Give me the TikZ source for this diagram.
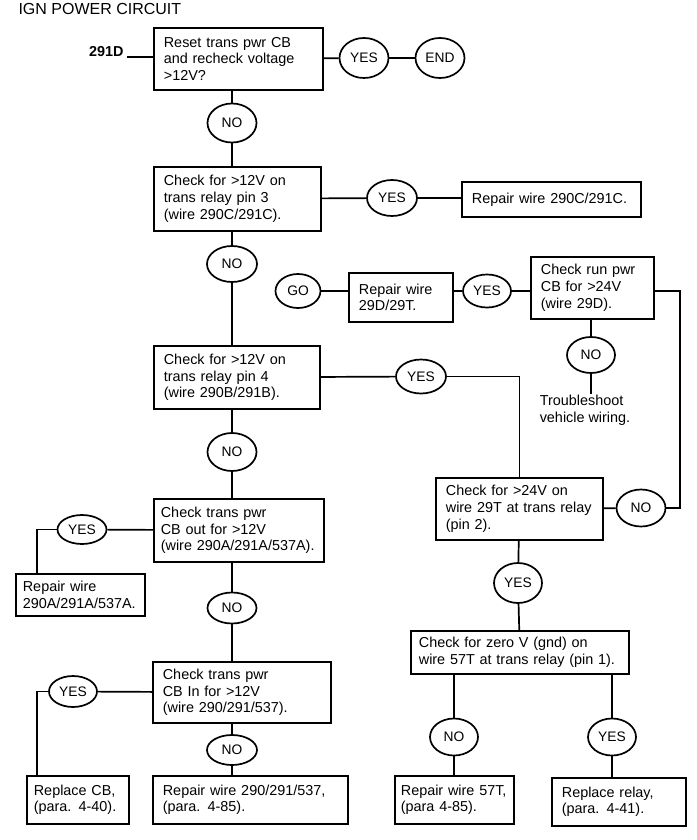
\documentclass[tikz,border=0pt]{standalone}
\usepackage{fontspec}
\setmainfont{Liberation Sans}
\usetikzlibrary{shapes.geometric}

\begin{document}
\begin{tikzpicture}[x=1pt, y=-1pt,
    chk/.style={draw, line width=1.7pt, anchor=north west, align=left, inner xsep=10pt, inner ysep=0pt, font=\fontsize{14.4}{16.6}\selectfont},
    ans/.style={draw, ellipse, line width=1.7pt, inner sep=0pt, minimum width=49pt, minimum height=36pt, font=\fontsize{13.8}{16}\selectfont},
    wire/.style={line width=1.7pt}]
    \useasboundingbox (0,0) rectangle (696,840);
    \node[anchor=base west, font=\fontsize{16}{19}\selectfont](title)at (15,15){IGN POWER CIRCUIT};
    \node[anchor=base east, font=\bfseries\fontsize{14.4}{17}\selectfont](start)at (127,57){291D};
    % left column
    \node[chk, text width=149pt, minimum height=62pt](reset)at (153,27){Reset trans pwr CB\\and recheck voltage\\>12V?};
    \node[chk, text width=147pt, minimum height=64pt](pinthree)at (153,166){Check for >12V on\\trans relay pin 3\\(wire 290C/291C).};
    \node[chk, text width=146pt, minimum height=63pt](pinfour)at (153,345){Check for >12V on\\trans relay pin 4\\(wire 290B/291B).};
    \node[chk, inner xsep=7pt, text width=156pt, minimum height=63pt](cbout)at (153,498){Check trans pwr\\CB out for >12V\\(wire 290A/291A/537A).};
    \node[chk, text width=158pt, minimum height=61pt](cbin)at (152,661){Check trans pwr\\CB In for >12V\\(wire 290/291/537).};
    \node[chk, inner xsep=7pt, text width=115pt, minimum height=42pt](fixwireA)at (15,573){Repair wire\\290A/291A/537A.};
    \node[chk, inner xsep=7pt, text width=88pt, minimum height=48pt](fixcb)at (26,775){Replace CB,\\(para. 4-40).};
    \node[chk, text width=175pt, minimum height=48pt](fixwire)at (152,775){Repair wire 290/291/537,\\(para. 4-85).};
    % right side
    \node[chk, text width=159pt, minimum height=35pt](fixwireC)at (461,181){Repair wire 290C/291C.};
    \node[chk, text width=84pt, minimum height=49pt](fixwireT)at (348,272){Repair wire\\29D/29T.};
    \node[chk, text width=103pt, minimum height=62pt](runcb)at (530,256){Check run pwr\\CB for >24V\\(wire 29D).};
    \node[anchor=north, align=left, inner sep=1pt, font=\fontsize{14.4}{16.6}\selectfont](trbl)at (585,394){Troubleshoot\\vehicle wiring.};
    \node[chk, text width=147pt, minimum height=62pt](relaytwo)at (435,477){Check for >24V on\\wire 29T at trans relay\\(pin 2).};
    \node[chk, inner xsep=8pt, text width=202pt, minimum height=43pt](relayone)at (410,630){Check for zero V (gnd) on\\wire 57T at trans relay (pin 1).};
    \node[chk, inner xsep=6pt, text width=107pt, minimum height=48pt](fixwireS)at (394,775){Repair wire 57T,\\(para 4-85).};
    \node[chk, text width=114pt, minimum height=48pt](fixrelay)at (551,777){Replace relay,\\(para. 4-41).};
    % answers
    \node[ans, minimum height=40pt](yes1)at (364,58){YES};
    \node[ans, minimum height=40pt](endn)at (440,58){END};
    \node[ans, minimum height=39pt](no1)at (232,123){NO};
    \node[ans, minimum width=50pt](yes2)at (392,198){YES};
    \node[ans, minimum width=50pt](no2)at (232,264){NO};
    \node[ans, minimum width=45pt, minimum height=34pt](go)at (298,291){GO};
    \node[ans, minimum width=48pt, minimum height=33pt](yes3)at (487,291){YES};
    \node[ans, minimum width=48pt](no3)at (591,355){NO};
    \node[ans, minimum width=50pt, minimum height=34pt](yes4)at (421,376.5){YES};
    \node[ans, minimum height=38pt](no4)at (232,452){NO};
    \node[ans, minimum height=29pt](yes5)at (82,529.5){YES};
    \node[ans, minimum height=31pt](no5)at (232,608){NO};
    \node[ans, minimum width=48pt, minimum height=31pt](yes6)at (73,691.5){YES};
    \node[ans, minimum width=50pt, minimum height=30pt](no6)at (232,750){NO};
    \node[ans, minimum height=37pt](no7)at (641,508){NO};
    \node[ans, minimum width=48pt, minimum height=40pt](yes7)at (518,583){YES};
    \node[ans, minimum width=48pt, minimum height=37pt](no8)at (454,737){NO};
    \node[ans, minimum width=48pt, minimum height=37pt](yes8)at (612,737){YES};
    \coordinate (rt) at (680,291);
    \coordinate (lt1) at (37,529.5);
    \coordinate (lt2) at (37,691.5);
    % connectors
    \draw[wire](start.base east)--(start.base east -| reset.west);
    \draw[wire](reset)--(yes1);
    \draw[wire](yes1)--(endn);
    \draw[wire](no1 |- reset.south)--(no1);
    \draw[wire](no1)--(no1 |- pinthree.north);
    \draw[wire](pinthree)--(yes2);
    \draw[wire](yes2)--(yes2 -| fixwireC.west);
    \draw[wire](no2 |- pinthree.south)--(no2);
    \draw[wire](no2)--(no2 |- pinfour.north);
    \draw[wire](go)--(go -| fixwireT.west);
    \draw[wire](fixwireT.east |- yes3)--(yes3);
    \draw[wire](yes3)--(yes3 -| runcb.west);
    \draw[wire](no3 |- runcb.south)--(no3);
    \draw[wire](no3)--(no3 |- trbl.north);
    \draw[wire](runcb.east |- rt)--(rt)|-(no7);
    \draw[wire](no7)--(relaytwo);
    \draw[wire](pinfour)--(yes4);
    \draw[wire](yes4)-|(relaytwo.north);
    \draw[wire](relaytwo)--(yes7);
    \draw[wire](yes7)--(relayone);
    \draw[wire](no8 |- relayone.south)--(no8);
    \draw[wire](no8)--(no8 |- fixwireS.north);
    \draw[wire](yes8 |- relayone.south)--(yes8);
    \draw[wire](yes8)--(yes8 |- fixrelay.north);
    \draw[wire](no4 |- pinfour.south)--(no4);
    \draw[wire](no4)--(no4 |- cbout.north);
    \draw[wire](cbout)--(yes5);
    \draw[wire](yes5)--(lt1)--(lt1 |- fixwireA.north);
    \draw[wire](no5 |- cbout.south)--(no5);
    \draw[wire](no5)--(no5 |- cbin.north);
    \draw[wire](cbin)--(yes6);
    \draw[wire](yes6)--(lt2)--(lt2 |- fixcb.north);
    \draw[wire](no6 |- cbin.south)--(no6);
    \draw[wire](no6)--(no6 |- fixwire.north);
\end{tikzpicture}
\end{document}
